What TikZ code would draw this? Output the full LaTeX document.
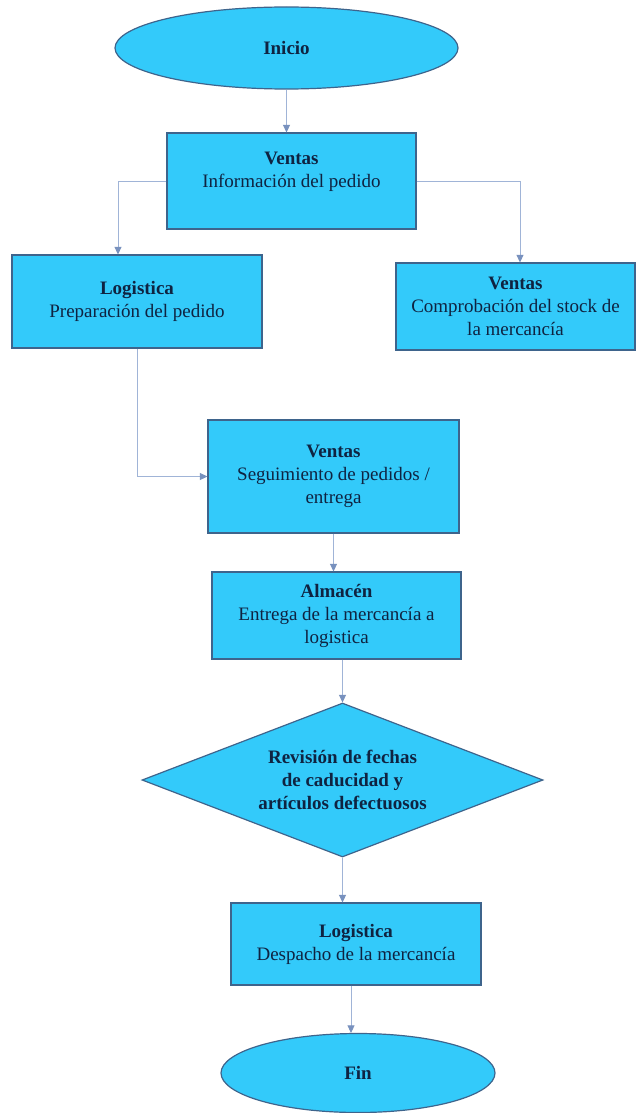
\documentclass[tikz,border=0pt]{standalone}
\usepackage{fontspec}
\setmainfont{Liberation Serif}
\usetikzlibrary{shapes.geometric,arrows.meta}

\definecolor{boxfill}{RGB}{51,202,250}
\definecolor{boxline}{RGB}{62,100,140}
\definecolor{linkline}{RGB}{160,180,215}
\definecolor{linktip}{RGB}{120,145,190}
\definecolor{ink}{RGB}{15,35,65}

\tikzset{
  shapebase/.style={draw=boxline, line width=1.2pt, fill=boxfill, text=ink,
    font=\fontsize{19}{23}\selectfont, align=center, inner sep=0pt},
  procbox/.style={shapebase, rectangle},
  terminal/.style={shapebase, ellipse},
  decision/.style={shapebase, diamond, aspect=2.6},
  link/.style={draw=linkline, line width=0.9pt,
    -{Triangle[length=7.5pt,width=7pt,color=linktip]}},
}

\begin{document}
\begin{tikzpicture}[x=1pt,y=-1pt]
  \useasboundingbox[fill=white] (0,0) rectangle (636,1113);

  % flow nodes
  \node[terminal, minimum width=343pt, minimum height=82pt] (inicio) at (286.5,48) {\textbf{Inicio}};
  \node[procbox, minimum width=249pt, minimum height=96pt] (ventasinfo) at (291.5,181)
    {\textbf{Ventas}\\Información del pedido\\\mbox{}};
  \node[procbox, minimum width=250pt, minimum height=93pt] (logprep) at (137,301.5)
    {\textbf{Logistica}\\Preparación del pedido};
  \node[procbox, minimum width=239pt, minimum height=87pt] (ventasstock) at (515.5,306.5)
    {\textbf{Ventas}\\Comprobación del stock de\\la mercancía};
  \node[procbox, minimum width=251pt, minimum height=113pt] (ventasseg) at (333.5,476.5)
    {\textbf{Ventas}\\Seguimiento de pedidos /\\entrega};
  \node[procbox, minimum width=249pt, minimum height=87pt] (almacen) at (336.5,615.5)
    {\textbf{Almacén}\\Entrega de la mercancía a\\logistica};
  \node[decision, minimum width=401pt, minimum height=154pt] (revision) at (342.5,780)
    {\textbf{Revisión de fechas}\\\textbf{de caducidad y}\\\textbf{artículos defectuosos}};
  \node[procbox, minimum width=250pt, minimum height=82pt] (logdesp) at (356,944)
    {\textbf{Logistica}\\Despacho de la mercancía};
  \node[terminal, minimum width=274pt, minimum height=79pt] (fin) at (358,1073) {\textbf{Fin}};

  % connectors
  \draw[link] (inicio.south) -- (inicio.south |- ventasinfo.north);
  \draw[link] (ventasinfo.west) -| ([xshift=-19pt]logprep.north);
  \draw[link] (ventasinfo.east) -| ([xshift=4.5pt]ventasstock.north);
  \draw[link] (logprep.south) |- (ventasseg.west);
  \draw[link] (ventasseg.south) -- (ventasseg.south |- almacen.north);
  \draw[link] (revision.north |- almacen.south) -- (revision.north);
  \draw[link] (revision.south) -- (revision.south |- logdesp.north);
  \draw[link] ([xshift=-5pt]logdesp.south) -- ([xshift=-5pt]logdesp.south |- fin.north);
\end{tikzpicture}
\end{document}
